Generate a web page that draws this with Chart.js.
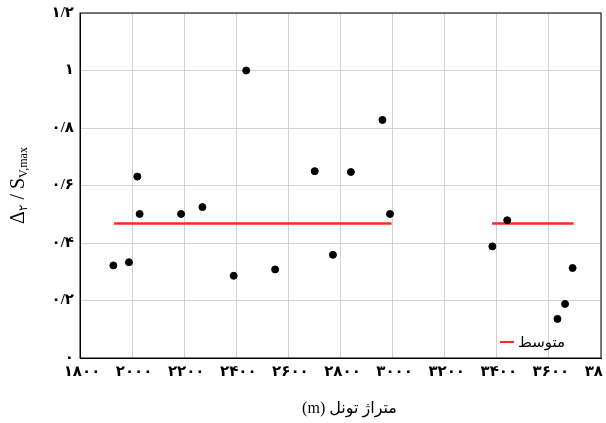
<!DOCTYPE html>
<html>
<head>
<meta charset="utf-8">
<script src="https://cdn.jsdelivr.net/npm/chart.js@4.4.1/dist/chart.umd.min.js"></script>
<style>
  html, body { margin: 0; padding: 0; background: #fff; }
  #wrap { width: 606px; height: 423px; }
</style>
</head>
<body>
<div id="wrap"><canvas id="tunnelChart"></canvas></div>
<script>
// chainage along the tunnel (m) and measured ratio at each station
const chainage = [1928, 1988, 2020, 2029, 2188, 2270, 2390, 2438, 2549, 2701, 2771, 2840, 2961, 2990, 3383, 3440, 3633, 3662, 3691];
const ratio    = [0.322, 0.333, 0.631, 0.501, 0.501, 0.525, 0.286, 1.0, 0.308, 0.650, 0.359, 0.647, 0.828, 0.501, 0.388, 0.479, 0.136, 0.188, 0.313];

// average over each tunnel section
const meanStart = [1931, 3382];
const meanEnd   = [2996, 3695];
const meanValue = [0.468, 0.468];

const legendLabel = 'متوسط';
const xTitle = 'متراژ تونل (m)';

const faDigits = '۰۱۲۳۴۵۶۷۸۹';
const toFa = s => String(s).replace(/[0-9]/g, d => faDigits[d]).replace('.', '/');

const serif = "'Liberation Serif', 'DejaVu Sans', serif";

const meanSets = meanStart.map((s, i) => ({
    type: 'line',
    label: legendLabel,
    data: [{ x: s, y: meanValue[i] }, { x: meanEnd[i], y: meanValue[i] }],
    borderColor: '#ff2626',
    borderWidth: 2.5,
    pointRadius: 0,
    fill: false
}));

// frame on all four sides of the plot area
const frame = {
    id: 'frame',
    afterDatasetsDraw(chart) {
        const { ctx, chartArea: a } = chart;
        ctx.save();
        ctx.strokeStyle = '#000';
        ctx.lineWidth = 1;
        ctx.strokeRect(a.left, a.top, a.right - a.left, a.bottom - a.top);
        ctx.restore();
    }
};

// legend in the lower right corner
const cornerLegend = {
    id: 'cornerLegend',
    afterDraw(chart) {
        const { ctx, chartArea: a } = chart;
        const y = a.bottom - 16;
        ctx.save();
        ctx.strokeStyle = '#ff2626';
        ctx.lineWidth = 2;
        ctx.beginPath();
        ctx.moveTo(a.right - 101, y);
        ctx.lineTo(a.right - 87, y);
        ctx.stroke();
        ctx.fillStyle = '#000';
        ctx.font = "15px " + serif;
        ctx.textBaseline = 'middle';
        ctx.textAlign = 'left';
        ctx.direction = 'rtl';
        ctx.fillText(legendLabel, a.right - 83, y + 1);
        ctx.restore();
    }
};

// axis titles: x title right-to-left, y title rotated with subscripts
const axisTitles = {
    id: 'axisTitles',
    afterDraw(chart) {
        const { ctx, chartArea: a } = chart;
        ctx.save();
        ctx.fillStyle = '#000';
        ctx.font = "16px " + serif;
        ctx.direction = 'rtl';
        ctx.textAlign = 'center';
        ctx.textBaseline = 'middle';
        ctx.fillText(xTitle, (a.left + a.right) / 2 + 9, a.bottom + 51);
        ctx.restore();

        const parts = [
            { t: 'Δ', size: 20, dy: 0 },
            { t: '۲', size: 12, dy: 3 },
            { t: ' / S', size: 20, dy: 0 },
            { t: 'V,max', size: 12, dy: 3 }
        ];
        ctx.save();
        ctx.fillStyle = '#000';
        ctx.textBaseline = 'alphabetic';
        ctx.textAlign = 'left';
        ctx.direction = 'ltr';
        let w = 0;
        parts.forEach(p => { ctx.font = p.size + 'px ' + serif; p.w = ctx.measureText(p.t).width; w += p.w; });
        ctx.translate(24, (a.top + a.bottom) / 2);
        ctx.rotate(-Math.PI / 2);
        let x = -w / 2;
        parts.forEach(p => {
            ctx.font = p.size + 'px ' + serif;
            ctx.fillText(p.t, x, p.dy);
            x += p.w;
        });
        ctx.restore();
    }
};

new Chart(document.getElementById('tunnelChart'), {
    type: 'scatter',
    data: {
        datasets: [{
            label: 'points',
            data: chainage.map((c, i) => ({ x: c, y: ratio[i] })),
            backgroundColor: '#000',
            borderColor: '#000',
            pointRadius: 3.5,
            pointHoverRadius: 3.5
        }, ...meanSets]
    },
    options: {
        responsive: true,
        maintainAspectRatio: false,
        animation: false,
        layout: { padding: { top: 13, right: 5, left: 0, bottom: 0 } },
        plugins: {
            legend: { display: false },
            tooltip: { enabled: false }
        },
        scales: {
            x: {
                type: 'linear',
                min: 1800,
                max: 3800,
                ticks: {
                    stepSize: 200,
                    padding: 5,
                    labelOffset: 2,
                    color: '#000',
                    font: { family: serif, size: 15, weight: 'bold' },
                    maxRotation: 0,
                    callback: v => toFa(v)
                },
                grid: { color: '#d2d2d2', drawTicks: false },
                border: { color: '#000' },
                afterFit(scale) {
                    scale.height = 65;
                    scale.paddingLeft = 0;
                    scale.paddingRight = 0;
                }
            },
            y: {
                min: 0,
                max: 1.2,
                ticks: {
                    stepSize: 0.2,
                    padding: 6,
                    color: '#000',
                    font: { family: serif, size: 15, weight: 'bold' },
                    callback: v => toFa(Math.round(v * 10) / 10)
                },
                grid: { color: '#d2d2d2', drawTicks: false },
                border: { color: '#000' },
                afterFit(scale) {
                    scale.width = 80;
                    scale.paddingTop = 0;
                    scale.paddingBottom = 0;
                }
            }
        }
    },
    plugins: [frame, cornerLegend, axisTitles]
});
</script>
</body>
</html>
